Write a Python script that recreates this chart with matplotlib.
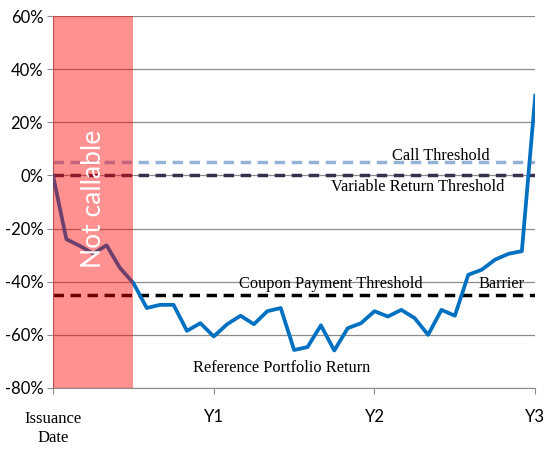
import matplotlib
matplotlib.use('Agg')
import matplotlib.pyplot as plt
import numpy as np

# monthly reference portfolio return (%), issuance to Y3
months = np.arange(37) / 12.0
portfolio = [0, -24, -26.5, -29.4, -26.3, -34.8, -40.5, -49.9, -48.7, -48.7,
             -58.5, -55.6, -60.6, -56, -52.8, -56, -51.1, -49.9, -65.7, -64.6,
             -56.4, -65.9, -57.5, -55.6, -51.1, -53.1, -50.6, -53.7, -60, -50.6,
             -52.8, -37.4, -35.5, -31.7, -29.5, -28.5, 30]

call_threshold = 5
variable_threshold = 0
coupon_threshold = -45
not_callable_end = 0.5

x_ticks = [0, 1, 2, 3]
x_labels = ['', 'Y1', 'Y2', 'Y3']
y_ticks = np.arange(-80, 61, 20)

fig = plt.figure(figsize=(5.44, 4.5), dpi=100)
ax = fig.add_axes([0.0974, 0.1378, 0.8865, 0.8266])

ax.set_xlim(0, 3)
ax.set_ylim(-80, 60)

for y in y_ticks:
    ax.axhline(y, color='#8c8c8c', lw=0.9, zorder=1)

dash_kw = dict(lw=2.5, dashes=(3.0, 1.9), zorder=2)
ax.axhline(call_threshold, color='#95b3d7', **dash_kw)
ax.axhline(variable_threshold, color='#3b2f50', **dash_kw)
ax.axhline(coupon_threshold, color='black', **dash_kw)

ax.plot(months, portfolio, color='#0070c0', lw=2.7, zorder=3)

# Not callable period overlay
ax.axvspan(0, not_callable_end, color='#ff0000', alpha=0.43, lw=0, zorder=4)
ax.text(0.25, -9, 'Not callable', rotation=90, color='white', fontsize=19,
        family='Lato', ha='center', va='center', zorder=5)

serif = 'Liberation Serif'
fs = 11.8
ax.text(2.41, 7.4, 'Call Threshold', family=serif, fontsize=fs, ha='center', va='center')
ax.text(2.27, -4.3, 'Variable Return Threshold', family=serif, fontsize=fs, ha='center', va='center')
ax.text(1.73, -41, 'Coupon Payment Threshold', family=serif, fontsize=fs, ha='center', va='center')
ax.text(2.79, -41, 'Barrier', family=serif, fontsize=fs, ha='center', va='center')
ax.text(1.42, -72.5, 'Reference Portfolio Return', family=serif, fontsize=fs, ha='center', va='center')

ax.set_yticks(y_ticks)
ax.set_yticklabels([f'{int(v)}%' for v in y_ticks], family='Lato', fontsize=12)
ax.set_xticks(x_ticks)
ax.set_xticklabels(x_labels, family='Lato', fontsize=12)
ax.tick_params(axis='y', length=4, color='#8c8c8c', pad=3)
ax.tick_params(axis='x', length=4, color='#8c8c8c', pad=11)

ax.text(0, -88.5, 'Issuance\nDate', family=serif, fontsize=12, ha='center', va='top',
        linespacing=1.25)

for side in ['top', 'right']:
    ax.spines[side].set_visible(False)
ax.spines['left'].set_color('#8c8c8c')
ax.spines['bottom'].set_color('#8c8c8c')

plt.savefig('out.png', dpi=100)
plt.close()
